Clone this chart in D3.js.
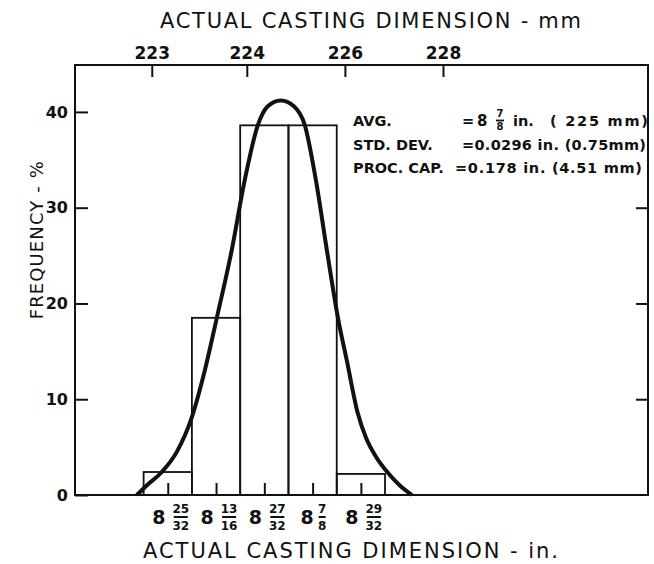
<!DOCTYPE html>
<html>
<head>
<meta charset="utf-8">
<script src="https://cdn.jsdelivr.net/npm/d3@7"></script>
<style>
  body { margin: 0; background: #fff; }
  text { font-family: "DejaVu Sans", sans-serif; fill: #111; }
</style>
</head>
<body>
<div id="chart"></div>
<script>
// histogram bins (inches) and frequency in %
const binCenters = [8.78125, 8.8125, 8.84375, 8.875, 8.90625];
const binWhole = ["8", "8", "8", "8", "8"];
const binNum = ["25", "13", "27", "7", "29"];
const binDen = ["32", "16", "32", "8", "32"];
const freqPct = [2.4, 18.5, 38.6, 38.6, 2.2];
const binWidth = 1 / 32;

// hand drawn normal curve
const curveIn = [8.7612, 8.7676, 8.7774, 8.7871, 8.7968, 8.8052, 8.8130, 8.8227,
                 8.8311, 8.8395, 8.8460, 8.8544, 8.8629, 8.8700, 8.8771, 8.8842,
                 8.8914, 8.8972, 8.9043, 8.9095, 8.9160, 8.9244, 8.9315, 8.9393];
const curvePct = [0, 1.0, 2.4, 4.5, 8.1, 13.0, 18.5, 25.6,
                  32.9, 38.6, 40.6, 41.2, 40.6, 38.6, 32.9, 25.6,
                  18.5, 14.0, 8.5, 6.0, 4.0, 2.2, 1.0, 0];

// mm axis on top (where the ticks fall on the inch axis)
const mmLabels = ["223", "224", "226", "228"];
const mmTickIn = [8.7709, 8.8324, 8.8959, 8.9594];

const yTicks = [0, 10, 20, 30, 40];
const yTicksRight = [10, 20, 30];

const statLabels = ["AVG.", "STD. DEV.", "PROC. CAP."];

const margin = { top: 65, right: 6, bottom: 69, left: 75 },
      width = 654 - margin.left - margin.right,
      height = 564 - margin.top - margin.bottom;

const svg = d3.select("#chart")
    .append("svg")
    .attr("width", 654)
    .attr("height", 564)
    .append("g")
    .attr("transform", `translate(${margin.left},${margin.top})`);

const x = d3.scaleLinear()
    .domain([8.7212, 9.0921])
    .range([0, width]);

const y = d3.scaleLinear()
    .domain([0, 44.9])
    .range([height, 0]);

// frame
svg.append("rect")
    .attr("x", 0).attr("y", 0)
    .attr("width", width).attr("height", height)
    .attr("fill", "none")
    .attr("stroke", "#111")
    .attr("stroke-width", 2);

// bars
svg.selectAll("rect.bar")
    .data(binCenters)
    .enter()
    .append("rect")
    .attr("class", "bar")
    .attr("x", (d) => x(d - binWidth / 2))
    .attr("y", (d, i) => y(freqPct[i]))
    .attr("width", (d) => x(d + binWidth / 2) - x(d - binWidth / 2))
    .attr("height", (d, i) => y(0) - y(freqPct[i]))
    .attr("fill", "none")
    .attr("stroke", "#111")
    .attr("stroke-width", 1.8);

// curve
const line = d3.line()
    .x((d) => x(d[0]))
    .y((d) => y(d[1]))
    .curve(d3.curveMonotoneX);

svg.append("path")
    .datum(d3.zip(curveIn, curvePct))
    .attr("d", line)
    .attr("fill", "none")
    .attr("stroke", "#111")
    .attr("stroke-width", 4);

// left axis
const gLeft = svg.append("g")
    .call(d3.axisLeft(y).tickValues(yTicks).tickSizeInner(-13).tickSizeOuter(0).tickPadding(7));
gLeft.select(".domain").remove();
gLeft.selectAll("line").attr("stroke", "#111").attr("stroke-width", 2);
gLeft.selectAll("text")
    .attr("font-family", "DejaVu Sans")
    .attr("font-size", 16)
    .attr("font-weight", "bold")
    .attr("fill", "#111");

// right axis ticks
const gRight = svg.append("g")
    .attr("transform", `translate(${width},0)`)
    .call(d3.axisRight(y).tickValues(yTicksRight).tickSizeInner(-12).tickSizeOuter(0).tickFormat(""));
gRight.select(".domain").remove();
gRight.selectAll("line").attr("stroke", "#111").attr("stroke-width", 2);

// top axis (mm)
const gTop = svg.append("g")
    .call(d3.axisTop(x).tickValues(mmTickIn).tickSizeInner(-12).tickSizeOuter(0).tickPadding(6)
        .tickFormat((d, i) => mmLabels[i]));
gTop.select(".domain").remove();
gTop.selectAll("line").attr("stroke", "#111").attr("stroke-width", 2);
gTop.selectAll("text")
    .attr("font-family", "DejaVu Sans")
    .attr("font-size", 17)
    .attr("font-weight", "bold")
    .attr("fill", "#111");

// bottom axis (in.) - ticks only, fraction labels drawn by hand
const gBottom = svg.append("g")
    .attr("transform", `translate(0,${height})`)
    .call(d3.axisBottom(x).tickValues(binCenters).tickSizeInner(-12).tickSizeOuter(0).tickFormat(""));
gBottom.select(".domain").remove();
gBottom.selectAll("line").attr("stroke", "#111").attr("stroke-width", 2);

const labels = svg.selectAll("g.binLabel")
    .data(binCenters)
    .enter()
    .append("g")
    .attr("class", "binLabel")
    .attr("transform", (d) => `translate(${x(d)},${height})`);

labels.append("text")
    .attr("x", (d, i) => -2 - binNum[i].length * 3.5)
    .attr("y", 29)
    .attr("text-anchor", "middle")
    .attr("font-size", 19)
    .attr("font-weight", "bold")
    .text((d, i) => binWhole[i]);

labels.append("text")
    .attr("x", (d, i) => 6 + binNum[i].length * 3.5)
    .attr("y", 18)
    .attr("text-anchor", "middle")
    .attr("font-size", 12)
    .attr("font-weight", "bold")
    .text((d, i) => binNum[i]);

labels.append("line")
    .attr("x1", (d, i) => 6)
    .attr("x2", (d, i) => 6 + binNum[i].length * 7)
    .attr("y1", 22).attr("y2", 22)
    .attr("stroke", "#111")
    .attr("stroke-width", 2);

labels.append("text")
    .attr("x", (d, i) => 6 + binNum[i].length * 3.5)
    .attr("y", 35)
    .attr("text-anchor", "middle")
    .attr("font-size", 12)
    .attr("font-weight", "bold")
    .text((d, i) => binDen[i]);

// titles
svg.append("text")
    .attr("x", 160 - margin.left)
    .attr("y", 28 - margin.top)
    .attr("font-size", 21)
    .attr("textLength", 421)
    .attr("lengthAdjust", "spacing")
    .text("ACTUAL CASTING DIMENSION - mm");

svg.append("text")
    .attr("x", 143 - margin.left)
    .attr("y", height + 63)
    .attr("font-size", 21)
    .attr("textLength", 415)
    .attr("lengthAdjust", "spacing")
    .text("ACTUAL CASTING DIMENSION - in.");

svg.append("text")
    .attr("transform", `translate(${43 - margin.left},${y(26.6)}) rotate(-90)`)
    .attr("text-anchor", "middle")
    .attr("font-size", 18)
    .attr("textLength", 158)
    .attr("lengthAdjust", "spacing")
    .text("FREQUENCY - %");

// statistics block
const stats = svg.append("g")
    .attr("transform", `translate(${353 - margin.left},${126 - margin.top})`)
    .attr("font-weight", "bold")
    .attr("font-size", 14.5);

stats.selectAll("text.statLabel")
    .data(statLabels)
    .enter()
    .append("text")
    .attr("class", "statLabel")
    .attr("x", 0)
    .attr("y", (d, i) => i * 23.5)
    .text((d) => d);

// AVG line
stats.append("text").attr("x", 109).attr("y", 0).text("=");
stats.append("text").attr("x", 124).attr("y", 0).attr("font-size", 15).text("8");
stats.append("text").attr("x", 147).attr("y", -9.5).attr("text-anchor", "middle").attr("font-size", 10).text("7");
stats.append("line").attr("x1", 143).attr("x2", 151).attr("y1", -5.5).attr("y2", -5.5)
    .attr("stroke", "#111").attr("stroke-width", 1.8);
stats.append("text").attr("x", 147).attr("y", 4).attr("text-anchor", "middle").attr("font-size", 10).text("8");
stats.append("text").attr("x", 160).attr("y", 0).text("in.");
stats.append("text").attr("x", 197).attr("y", 0)
    .attr("textLength", 98).attr("lengthAdjust", "spacing").text("( 225 mm)");

// STD line
stats.append("text").attr("x", 109).attr("y", 23.5)
    .attr("textLength", 184).attr("lengthAdjust", "spacing").text("=0.0296 in. (0.75mm)");

// PROC line
stats.append("text").attr("x", 102).attr("y", 47)
    .attr("textLength", 187).attr("lengthAdjust", "spacing").text("=0.178 in. (4.51 mm)");
</script>
</body>
</html>
